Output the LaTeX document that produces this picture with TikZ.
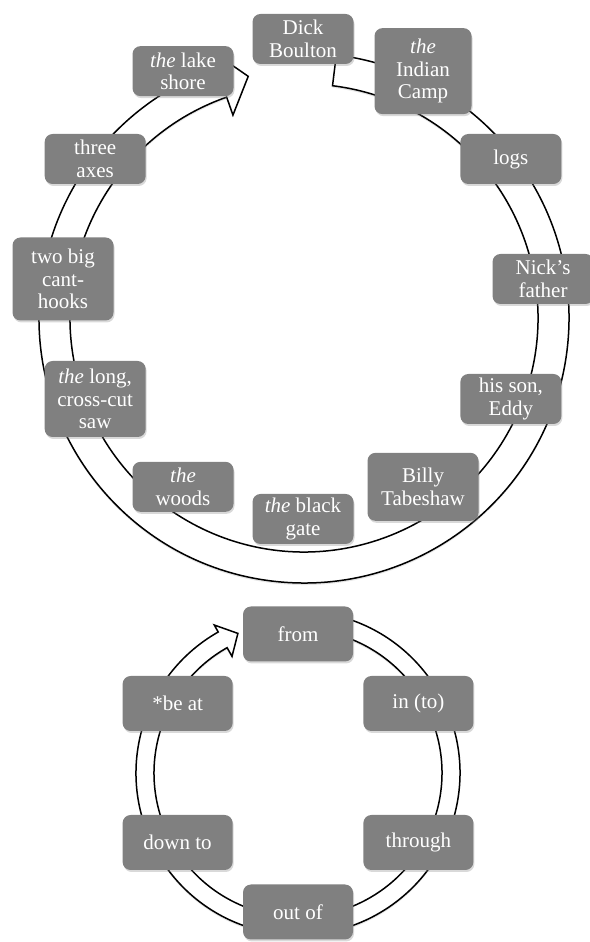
\documentclass[tikz,border=0pt]{standalone}
\usepackage{fontspec}
\setmainfont{Liberation Serif}
\usetikzlibrary{shadows}

\begin{document}
\begin{tikzpicture}[x=1pt,y=1pt,
    word/.style={fill=gray,text=white,rounded corners=8pt,align=center,inner sep=0pt,
      minimum width=101pt,minimum height=50pt,font=\fontsize{21}{22.5}\selectfont,
      drop shadow={shadow xshift=1pt,shadow yshift=-2pt,opacity=.3}},
    wordb/.style={word,minimum width=110pt,minimum height=55pt},
    ring/.style={draw=black,line width=1.5pt,fill=white,line join=miter,
      drop shadow={shadow xshift=0pt,shadow yshift=-2pt,opacity=.2}}]
        \useasboundingbox (0,0) rectangle (589,942);

        \begin{scope}[shift={(304,624)}]
            \draw[ring] (83:265) arc[start angle=83,end angle=-250.7,radius=265]
                -- (109.3:284) -- (103:248) -- (109.3:215) -- (109.3:234)
                arc[start angle=-250.7,end angle=83,radius=234] -- cycle;
        \end{scope}

        \begin{scope}[shift={(303,663)}]
            \node[word] (dick) at (90:240) {Dick\\Boulton};
            \node[word,minimum width=97pt,minimum height=86pt] (camp) at (60:240) {\emph{the}\\Indian\\Camp};
            \node[word] (logs) at (30:240) {logs};
            \node[word] (father) at (0:240) {Nick’s\\father};
            \node[word] (eddy) at (-30:240) {his son,\\Eddy};
            \node[word,minimum width=111pt,minimum height=68pt] (billy) at (-60:240) {Billy\\Tabeshaw};
            \node[word] (gate) at (-90:240) {\emph{the} black\\gate};
            \node[word] (woods) at (-120:240) {\emph{the}\\woods};
            \node[word,minimum height=76pt] (saw) at (-150:240) {\emph{the} long,\\cross-cut\\saw};
            \node[word,minimum height=83pt] (hooks) at (180:240) {two big\\cant-\\hooks};
            \node[word] (axes) at (150:240) {three\\axes};
            \node[word] (shore) at (120:240) {\emph{the} lake\\shore};
        \end{scope}

        \begin{scope}[shift={(298,169)}]
            \draw[ring] (78:162) arc[start angle=78,end angle=-240.5,radius=162]
                -- (119.5:170) -- (113.3:152) -- (119.5:134) -- (119.5:144)
                arc[start angle=-240.5,end angle=78,radius=144] -- cycle;
            \node[wordb] (from) at (90:139) {from};
            \node[wordb] (into) at (30:139) {in (to)};
            \node[wordb] (through) at (-30:139) {through};
            \node[wordb] (outof) at (-90:139) {out of};
            \node[wordb] (downto) at (-150:139) {down to};
            \node[wordb] (beat) at (150:139) {*be at};
        \end{scope}
    \end{tikzpicture}
\end{document}
